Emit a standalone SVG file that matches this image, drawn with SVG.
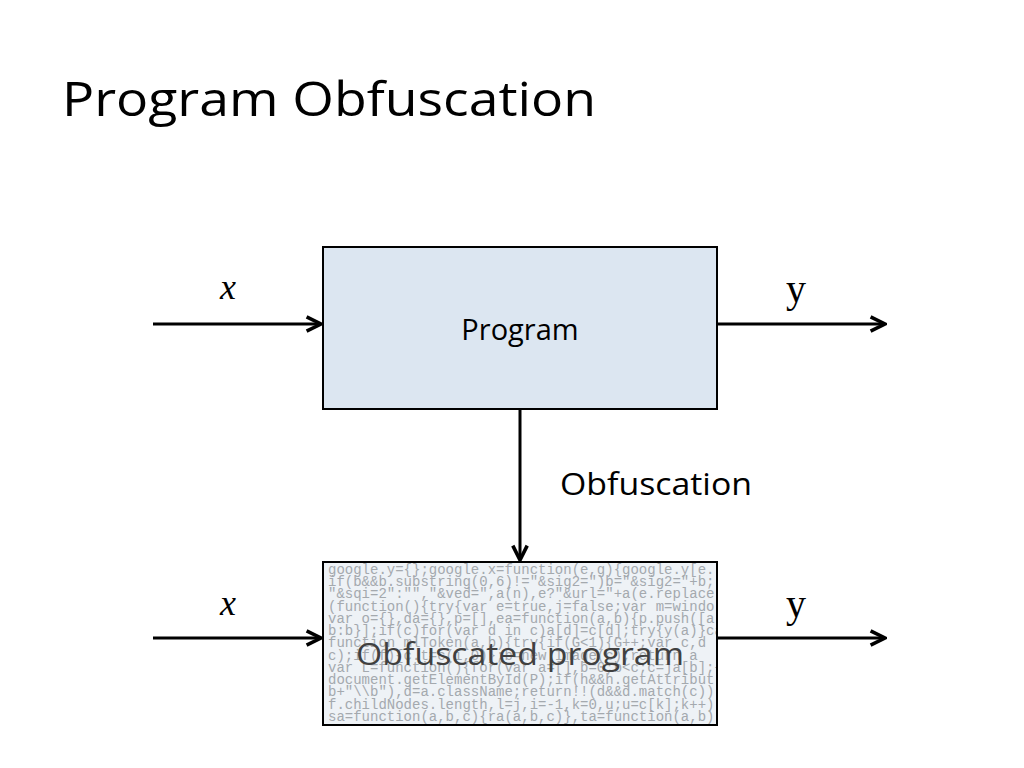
<svg xmlns="http://www.w3.org/2000/svg" width="1024" height="768" viewBox="0 0 1024 768">
<style>
.t{font-family:"Open Sans","Liberation Sans",sans-serif;fill:#000}
.m{font-family:"Liberation Serif",serif;font-style:italic;font-size:36px}
.y{font-family:"Liberation Serif",serif;font-size:40px}
.c{font-family:"Liberation Mono",monospace;font-size:14px;fill:#a4a9ae}
.ln{stroke:#000;stroke-width:3;fill:none}
</style>
<defs>
<marker id="ah" viewBox="0 0 10 10" refX="9" refY="5" markerWidth="6" markerHeight="6" orient="auto"><path d="M1,1 L9,5 L1,9" fill="none" stroke="#000" stroke-width="2"/></marker>
<clipPath id="cb"><rect x="324" y="563" width="392" height="161"/></clipPath>
</defs>
<rect width="1024" height="768" fill="#fff"/>
<text x="62" y="116" class="t" font-size="48" textLength="534" lengthAdjust="spacingAndGlyphs">Program Obfuscation</text>
<g id="connectors">
<path class="ln" d="M153,324 H321" marker-end="url(#ah)"/>
<path class="ln" d="M717,324 H885" marker-end="url(#ah)"/>
<path class="ln" d="M520,409 V560" marker-end="url(#ah)"/>
<path class="ln" d="M153,638 H321" marker-end="url(#ah)"/>
<path class="ln" d="M717,638 H885" marker-end="url(#ah)"/>
<text x="560" y="495" class="t" font-size="31" textLength="192" lengthAdjust="spacingAndGlyphs">Obfuscation</text>
</g>
<g id="labels">
<text x="220" y="299" class="m">x</text>
<text x="786" y="302" class="y">y</text>
<text x="220" y="615" class="m">x</text>
<text x="786" y="617" class="y">y</text>
</g>
<g id="program">
<rect x="323" y="247" width="394" height="162" fill="#dce6f1" stroke="#000" stroke-width="2"/>
<text x="520" y="340" class="t" font-size="29" text-anchor="middle">Program</text>
</g>
<g id="obfuscated">
<rect x="323" y="562" width="394" height="163" fill="#eef2f6" stroke="#000" stroke-width="2"/>
<g clip-path="url(#cb)" class="c">
<text x="328" y="574">google.y={};google.x=function(e,g){google.y[e.</text>
<text x="328" y="586">if(b&amp;&amp;b.substring(0,6)!="&amp;sig2=")b="&amp;sig2="+b;</text>
<text x="328" y="598">"&amp;sqi=2":"","&amp;ved=",a(n),e?"&amp;url="+a(e.replace</text>
<text x="328" y="611">(function(){try{var e=true,j=false;var m=windo</text>
<text x="328" y="623">var o={},da={},p=[],ea=function(a,b){p.push([a</text>
<text x="328" y="635">b:b}];if(c)for(var d in c)a[d]=c[d];try{y(a)}ca</text>
<text x="328" y="647">function mlToken(a,b){try{if(G&lt;1){G++;var c,d</text>
<text x="328" y="660">c);if(f){c.t=c(i,0)};b=new Image(c);return a</text>
<text x="328" y="672">var L=function(){for(var a=[],b=0;b&lt;c;c=ja[b];++</text>
<text x="328" y="684">document.getElementById(P);if(h&amp;&amp;h.getAttribut</text>
<text x="328" y="696">b+"\\b"),d=a.className;return!!(d&amp;&amp;d.match(c))</text>
<text x="328" y="709">f.childNodes.length,l=j,i=-1,k=0,u;u=c[k];k++)</text>
<text x="328" y="721">sa=function(a,b,c){ra(a,b,c)},ta=function(a,b)</text>
</g>
<text x="520" y="665" class="t" font-size="31" text-anchor="middle" style="fill:#404040" textLength="328" lengthAdjust="spacingAndGlyphs">Obfuscated program</text>
</g>
</svg>
